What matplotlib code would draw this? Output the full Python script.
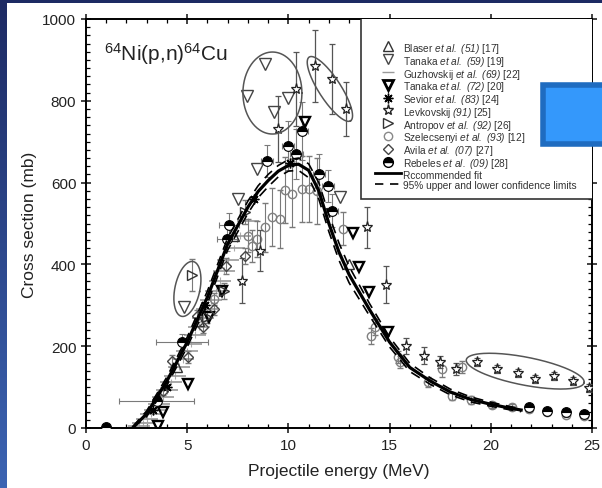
import numpy as np
import matplotlib.pyplot as plt
from matplotlib.patches import Rectangle
from matplotlib.lines import Line2D
from matplotlib.colors import LinearSegmentedColormap

plt.rcParams['font.family'] = ['Liberation Sans', 'DejaVu Sans']
plt.rcParams['mathtext.fontset'] = 'custom'
plt.rcParams['mathtext.rm'] = 'Liberation Sans'
plt.rcParams['mathtext.it'] = 'Liberation Sans:italic'
# \mathbf is used only for italic legend parts (digits included)
plt.rcParams['mathtext.bf'] = 'Liberation Sans:italic'

# recommended fit and 95% limits
fit_x = [2.3, 3.0, 4.0, 5.0, 6.0, 7.0, 8.0, 8.5, 9.0, 9.5, 10.0, 10.5, 11.0, 11.5, 12.0, 12.5,
         13.0, 14.0, 15.0, 16.0, 17.0, 18.0, 19.0, 20.0, 21.0, 21.5]
fit_y = [0, 35, 115, 210, 320, 450, 540, 578, 605, 628, 642, 645, 630, 580, 500, 430,
         375, 290, 210, 148, 115, 88, 70, 58, 48, 44]
upper_y = [3, 42, 125, 222, 335, 465, 555, 592, 620, 642, 656, 660, 646, 600, 522, 452,
           395, 305, 222, 158, 123, 95, 76, 63, 52, 48]
lower_y = [0, 28, 105, 198, 305, 435, 525, 563, 590, 614, 628, 630, 612, 560, 480, 410,
           355, 275, 198, 138, 107, 81, 64, 53, 44, 40]

blaser_x = [4.5, 5.6, 7.3, 13.0]
blaser_y = [150, 262, 470, 402]

tanaka59_x = [4.84, 7.50, 7.95, 8.45, 8.85, 9.29, 9.98, 12.55]
tanaka59_y = [296, 560, 812, 633, 890, 773, 807, 565]

guzh_x = [2.6, 2.8, 3.0, 3.2, 3.4, 3.6, 3.8, 4.0, 4.2, 4.4, 4.6, 4.8, 5.0, 5.2, 5.4, 5.6,
          5.8, 6.0, 6.2, 6.4, 6.6, 6.8, 7.0, 7.3, 7.6, 8.0]
guzh_y = [5, 12, 22, 35, 45, 58, 75, 92, 112, 128, 150, 168, 188, 205, 228, 248,
          270, 292, 312, 335, 360, 385, 410, 440, 470, 505]

tanaka72_x = [3.56, 3.8, 5.04, 6.1, 6.7, 10.8, 13.2, 13.5, 14.0, 14.9]
tanaka72_y = [5, 38, 107, 271, 335, 748, 477, 394, 333, 235]

sevior_x = [3.3, 4.0, 5.9, 8.3, 10.1]
sevior_y = [45, 100, 300, 560, 648]

levk_x = [7.7, 8.6, 9.5, 10.4, 11.3, 12.15, 12.85, 13.9, 14.8, 15.8, 16.7, 17.5, 18.3,
          19.3, 20.3, 21.35, 22.2, 23.1, 24.05, 24.85]
levk_y = [360, 433, 731, 829, 885, 853, 780, 491, 350, 201, 177, 162, 144,
          162, 144, 135, 120, 127, 115, 98]
levk_err = [55, 50, 80, 90, 88, 85, 65, 50, 45, 20, 20, 15, 15, 10, 10, 10, 10, 10, 10, 10]

antr_x = [5.24, 6.0, 6.8, 7.85]
antr_y = [374, 271, 335, 528]
antr_err = [40, 15, 20, 30]

szel_x = [6.3, 8.0, 8.2, 8.45, 8.85, 9.2, 9.6, 9.83, 10.2, 10.67, 11.0, 11.4, 12.7, 14.1,
          14.3, 15.4, 15.5, 16.9, 17.6, 18.1, 18.6, 19.0, 20.05, 21.05, 21.9, 22.8, 23.7, 24.6]
szel_y = [315, 470, 445, 462, 491, 516, 511, 582, 572, 584, 584, 580, 487, 225,
          247, 174, 161, 112, 144, 78, 149, 68, 56, 51, 46, 38, 33, 30]
szel_err = [15, 40, 40, 45, 60, 70, 70, 80, 80, 80, 80, 80, 40, 20,
            20, 15, 15, 12, 20, 10, 15, 10, 8, 8, 8, 6, 6, 6]

avila_x = [3.8, 4.25, 5.04, 5.5, 5.8, 6.3, 6.9, 7.85]
avila_y = [90, 164, 173, 274, 247, 291, 396, 420]
avila_err = [10, 15, 15, 15, 15, 15, 20, 20]

reb_x = [0.99, 3.5, 4.74, 6.96, 7.07, 8.95, 10.0, 10.4, 10.67, 11.5, 11.96, 12.15,
         21.9, 22.8, 23.7, 24.6]
reb_y = [3, 66, 210, 462, 496, 653, 690, 670, 726, 621, 592, 531, 51, 42, 38, 34]
reb_yerr = [0, 0, 20, 30, 30, 40, 60, 60, 70, 50, 40, 40, 0, 0, 0, 0]
reb_xerr = [0, 1.85, 1.3, 0.5, 0.5, 0.3, 0.3, 0.3, 0.3, 0.3, 0.3, 0.3, 0, 0, 0, 0]

W, H = 602, 489
fig = plt.figure(figsize=(W / 100, H / 100), dpi=100)

# slide background
bg = fig.add_axes([0, 0, 1, 1], zorder=-10)
grad = np.linspace(0, 1, 256).reshape(-1, 1)
cm = LinearSegmentedColormap.from_list('slide', ['#1d2a63', '#3c64b3'])
bg.imshow(grad, aspect='auto', cmap=cm, extent=[0, 1, 0, 1])
bg.add_patch(Rectangle((7 / W, 0), 1, 1 - 4 / H, facecolor='white', edgecolor='none'))
bg.set_xlim(0, 1)
bg.set_ylim(0, 1)
bg.axis('off')

ax = fig.add_axes([86 / W, 60 / H, 506 / W, 409 / H])

ecol = '#7a7a7a'
ax.errorbar(guzh_x, guzh_y, yerr=8, fmt='_', ms=16, mew=1.2, color='#9a9a9a',
            ecolor='#aaaaaa', elinewidth=0.8, zorder=2)
ax.errorbar(szel_x, szel_y, yerr=szel_err, fmt='o', ms=6, mfc='none', mec='#808080',
            mew=1, ecolor=ecol, elinewidth=0.8, capsize=2, zorder=3)
ax.errorbar(levk_x, levk_y, yerr=levk_err, fmt='*', ms=8, mfc='white', mec='#222222',
            mew=0.9, ecolor='#555555', elinewidth=0.9, capsize=2, zorder=4)
ax.errorbar(antr_x, antr_y, yerr=antr_err, fmt='>', ms=7, mfc='none', mec='#333333',
            mew=1, ecolor=ecol, elinewidth=0.8, capsize=2, zorder=4)
ax.errorbar(avila_x, avila_y, yerr=avila_err, fmt='D', ms=5.5, mfc='none', mec='#444444',
            mew=1, ecolor=ecol, elinewidth=0.8, capsize=2, zorder=4)
ax.errorbar(reb_x, reb_y, yerr=reb_yerr, xerr=reb_xerr, fmt='o', ms=7, mfc='black',
            mfcalt='white', fillstyle='top', mec='black', mew=0.8,
            ecolor=ecol, elinewidth=0.8, capsize=2, zorder=4)
ax.plot(blaser_x, blaser_y, '^', ms=7, mfc='none', mec='#333333', mew=1, zorder=4)
ax.plot(tanaka59_x, tanaka59_y, 'v', ms=8, mfc='none', mec='#444444', mew=1, zorder=4)
ax.plot(tanaka72_x, tanaka72_y, 'v', ms=7.5, mfc='none', mec='black', mew=1.7, zorder=4)
ax.plot(sevior_x, sevior_y, marker=(8, 2, 0), ls='none', ms=7, color='black', mew=1, zorder=4)

ax.plot(fit_x, fit_y, color='black', lw=2.3, zorder=6)
ax.plot(fit_x, upper_y, color='black', lw=1.2, dashes=(6, 4), zorder=6)
ax.plot(fit_x, lower_y, color='black', lw=1.2, dashes=(6, 4), zorder=6)

# ellipses drawn in pixel units around a data centre
sx, sy = 506 / 25, 409 / 1000
def ellipse(cx, cy, a, b, ang):
    t = np.linspace(0, 2 * np.pi, 200)
    r = np.deg2rad(ang)
    dx = a * np.cos(t) * np.cos(r) - b * np.sin(t) * np.sin(r)
    dy = a * np.cos(t) * np.sin(r) + b * np.sin(t) * np.cos(r)
    ax.plot(cx + dx / sx, cy + dy / sy, color='#555555', lw=1.1, zorder=7)

ellipse(9.21, 819, 29.5, 41, 0)
ellipse(12.05, 829, 38, 11, -57)
ellipse(5.01, 340, 12.5, 28, -12)
ellipse(21.7, 139, 60, 14, -11)

ax.set_xlim(0, 25)
ax.set_ylim(0, 1000)
ax.set_xticks(np.arange(0, 26, 5))
ax.set_xticks(np.arange(0, 26, 1), minor=True)
ax.set_yticks(np.arange(0, 1001, 200))
ax.set_yticks(np.arange(0, 1001, 20), minor=True)
ax.tick_params(which='major', direction='inout', length=7, width=1.2, labelsize=11,
               top=True, right=True, colors='#222222')
ax.tick_params(which='minor', direction='in', length=3, width=0.9, top=True, right=True)
for s in ax.spines.values():
    s.set_linewidth(1.4)
ax.set_xlabel('Projectile energy (MeV)', fontsize=12.5, labelpad=8, color='#222222')
ax.set_ylabel('Cross section (mb)', fontsize=12.5, labelpad=4, color='#222222')
ax.text(0.036, 0.9, r'$^{64}$Ni(p,n)$^{64}$Cu', transform=ax.transAxes, fontsize=15,
        color='#222222')

# legend
ax.add_patch(Rectangle(((361 - 86) / 506, (429 - 200) / 409), 1, 1, transform=ax.transAxes,
                       facecolor='white', edgecolor='#333333', lw=1.2, zorder=8))
h = [
    Line2D([], [], ls='none', marker='^', ms=7, mfc='none', mec='#333333'),
    Line2D([], [], ls='none', marker='v', ms=7, mfc='none', mec='#444444'),
    Line2D([], [], ls='none', marker='_', ms=8, color='#999999'),
    Line2D([], [], ls='none', marker='v', ms=7, mfc='none', mec='black', mew=2),
    Line2D([], [], ls='none', marker=(8, 2, 0), ms=7, color='black'),
    Line2D([], [], ls='none', marker='*', ms=8, mfc='white', mec='#222222'),
    Line2D([], [], ls='none', marker='>', ms=7, mfc='none', mec='#333333'),
    Line2D([], [], ls='none', marker='o', ms=6, mfc='none', mec='#888888'),
    Line2D([], [], ls='none', marker='D', ms=5.5, mfc='none', mec='#444444'),
    Line2D([], [], ls='none', marker='o', ms=7, mfc='black', mfcalt='white',
           fillstyle='top', mec='black'),
    Line2D([], [], color='black', lw=2),
    Line2D([], [], color='black', lw=1.2, dashes=(5, 4)),
]
labels = [
    r'Blaser $\mathbf{et\ al.\ (51)}$ [17]',
    r'Tanaka $\mathbf{et\ al.\ (59)}$ [19]',
    r'Guzhovskij $\mathbf{et\ al.\ (69)}$ [22]',
    r'Tanaka $\mathbf{et\ al.\ (72)}$ [20]',
    r'Sevior $\mathbf{et\ al.\ (83)}$ [24]',
    r'Levkovskij $\mathbf{(91)}$ [25]',
    r'Antropov $\mathbf{et\ al.\ (92)}$ [26]',
    r'Szelecsenyi $\mathbf{et\ al.\ (93)}$ [12]',
    r'Avila $\mathbf{et\ al.\ (07)}$ [27]',
    r'Rebeles $\mathbf{et\ al.\ (09)}$ [28]',
    'Rccommended fit',
    '95% upper and lower confidence limits',
]
# tall handle boxes keep every row the same height
leg = ax.legend(h, labels, loc='upper left', bbox_to_anchor=((375 - 86) / 506, (429 - 42) / 409),
                frameon=False, fontsize=7.3, handlelength=2.6, handleheight=1.35,
                handletextpad=0.2, labelspacing=-0.12, borderpad=0, borderaxespad=0)
leg.set_zorder(9)
for t in leg.get_texts():
    t.set_color('#333333')

# blue square on the slide
fig.add_artist(Rectangle((543 / W, (H - 145) / H), 62 / W, 59 / H, transform=fig.transFigure,
                         facecolor='#3498fb', edgecolor='#1f6cc0', lw=4, zorder=20))

fig.savefig('out.png', dpi=100)
